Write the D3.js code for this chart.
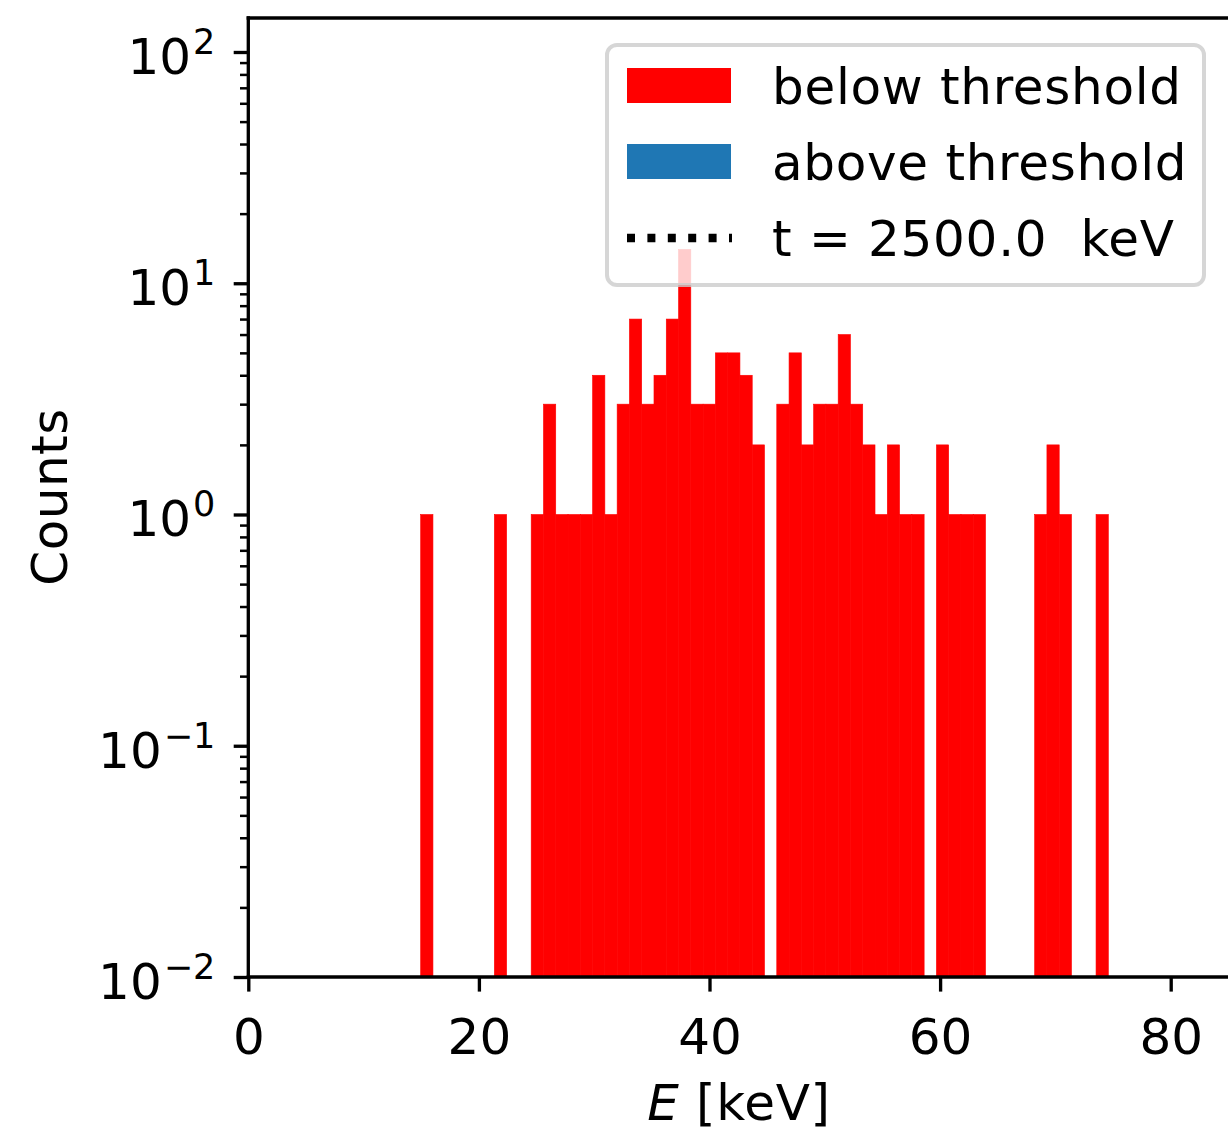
<!DOCTYPE html>
<html>
<head>
<meta charset="utf-8">
<script src="https://cdn.jsdelivr.net/npm/d3@7"></script>
<style>
  html, body { margin: 0; padding: 0; background: #fff; }
  svg { display: block; }
  text { font-family: "DejaVu Sans", sans-serif; fill: #000; }
</style>
</head>
<body>
<svg id="chart" width="1228" height="1134"></svg>
<script>
// ---------------- data ----------------
const binStart = 14.95;     // keV, left edge of first bin
const binWidth = 1.065;     // keV
const counts = [1, 0, 0, 0, 0, 0, 1, 0, 0, 1,
                3, 1, 1, 1, 4, 1, 3, 7, 3, 4,
                7, 14, 3, 3, 5, 5, 4, 2, 0, 3,
                5, 2, 3, 3, 6, 3, 2, 1, 2, 1,
                1, 0, 2, 1, 1, 1, 0, 0, 0, 0,
                1, 2, 1, 0, 0, 1];
const xTicks = [0, 20, 40, 60, 80];
const yDecades = [-2, -1, 0, 1, 2];
const legendItems = ["below threshold", "above threshold", "t = 2500.0  keV"];
const colors = { below: "#ff0000", above: "#1f77b4" };

// ---------------- layout ----------------
const svg = d3.select("#chart");
const axLeft = 248.3, axTop = 18, axBottom = 977;
const x = d3.scaleLinear().domain([0, 80]).range([axLeft, 1170.7]);
const xMax = x.invert(1240);
x.domain([0, xMax]).range([axLeft, 1240]);
const y = d3.scaleLog().domain([0.01, Math.pow(10, 2.147)]).range([axBottom, axTop]);

const bins = counts.map((c, i) => ({ x0: binStart + i * binWidth, x1: binStart + (i + 1) * binWidth, c }));

// bars
svg.append("g").selectAll("rect")
  .data(bins.filter(d => d.c > 0))
  .join("rect")
  .attr("x", d => x(d.x0))
  .attr("width", d => x(d.x1) - x(d.x0))
  .attr("y", d => y(d.c))
  .attr("height", d => axBottom - y(d.c))
  .attr("fill", colors.below)
  .attr("stroke", colors.below)
  .attr("stroke-width", 0.6);

// axes
const lw = 3.33;
const xAxis = d3.axisBottom(x).tickValues(xTicks).tickSize(14.6).tickPadding(14).tickFormat(d3.format("d"));
const gx = svg.append("g").attr("transform", `translate(0,${axBottom})`).call(xAxis);
gx.select(".domain").remove();
gx.selectAll(".tick line").attr("stroke", "#000").attr("stroke-width", lw);
gx.selectAll(".tick text").attr("font-size", 50).attr("font-family", "DejaVu Sans").attr("dy", null).attr("y", 77).attr("fill", "#000");

// y minor ticks
const minor = [];
yDecades.forEach(k => { for (let m = 2; m <= 9; m++) { const v = m * Math.pow(10, k); if (v <= y.domain()[1]) minor.push(v); } });
const yAxisMinor = d3.axisLeft(y).tickValues(minor).tickSize(8.3).tickFormat("");
const gym = svg.append("g").attr("transform", `translate(${axLeft},0)`).call(yAxisMinor);
gym.select(".domain").remove();
gym.selectAll(".tick line").attr("stroke", "#000").attr("stroke-width", 2.5);

const yMajor = yDecades.map(k => Math.pow(10, k));
const yAxis = d3.axisLeft(y).tickValues(yMajor).tickSize(14.6).tickFormat("");
const gy = svg.append("g").attr("transform", `translate(${axLeft},0)`).call(yAxis);
gy.select(".domain").remove();
gy.selectAll(".tick line").attr("stroke", "#000").attr("stroke-width", lw);
// mathtext-like labels
gy.selectAll(".tick").each(function(d) {
  const k = Math.round(Math.log10(d));
  const t = d3.select(this).append("text")
    .attr("x", -33).attr("y", 21.3)
    .attr("text-anchor", "end")
    .attr("font-size", 50).attr("fill", "#000");
  t.append("tspan").text("10");
  t.append("tspan").attr("dx", 2).attr("dy", -20).attr("font-size", 35)
    .text(k < 0 ? "\u2212" + Math.abs(k) : String(k));
});

// spines
svg.append("line").attr("x1", axLeft).attr("x2", axLeft).attr("y1", axTop).attr("y2", axBottom)
  .attr("stroke", "#000").attr("stroke-width", lw).attr("stroke-linecap", "square");
svg.append("line").attr("x1", axLeft).attr("x2", 1240).attr("y1", axBottom).attr("y2", axBottom)
  .attr("stroke", "#000").attr("stroke-width", lw).attr("stroke-linecap", "square");
svg.append("line").attr("x1", axLeft).attr("x2", 1240).attr("y1", axTop).attr("y2", axTop)
  .attr("stroke", "#000").attr("stroke-width", lw).attr("stroke-linecap", "square");

// axis labels
const xl = svg.append("text").attr("x", 739).attr("y", 1120).attr("text-anchor", "middle")
  .attr("font-size", 50).attr("letter-spacing", 0.7);
xl.append("tspan").attr("font-style", "italic").text("E");
xl.append("tspan").text(" [keV]");
svg.append("text").attr("transform", "translate(67,497) rotate(-90)").attr("text-anchor", "middle")
  .attr("font-size", 50).attr("letter-spacing", 0.5).text("Counts");

// legend
const lg = svg.append("g");
lg.append("rect").attr("x", 607).attr("y", 45).attr("width", 597).attr("height", 240)
  .attr("rx", 10).attr("ry", 10)
  .attr("fill", "#fff").attr("fill-opacity", 0.8)
  .attr("stroke", "#cccccc").attr("stroke-opacity", 0.8).attr("stroke-width", 4);
const rowY = [86, 162, 238];
lg.append("rect").attr("x", 627).attr("y", rowY[0] - 18).attr("width", 104).attr("height", 35).attr("fill", colors.below);
lg.append("rect").attr("x", 627).attr("y", rowY[1] - 18).attr("width", 104).attr("height", 35).attr("fill", colors.above);
lg.append("line").attr("x1", 627).attr("x2", 732).attr("y1", rowY[2]).attr("y2", rowY[2])
  .attr("stroke", "#000").attr("stroke-width", 8.3).attr("stroke-dasharray", "8 12.4");
legendItems.forEach((s, i) => {
  lg.append("text").attr("x", 772).attr("y", rowY[i] + 18).attr("font-size", 50)
    .attr("letter-spacing", 0.7)
    .style("white-space", "pre").text(s);
});
</script>
</body>
</html>
